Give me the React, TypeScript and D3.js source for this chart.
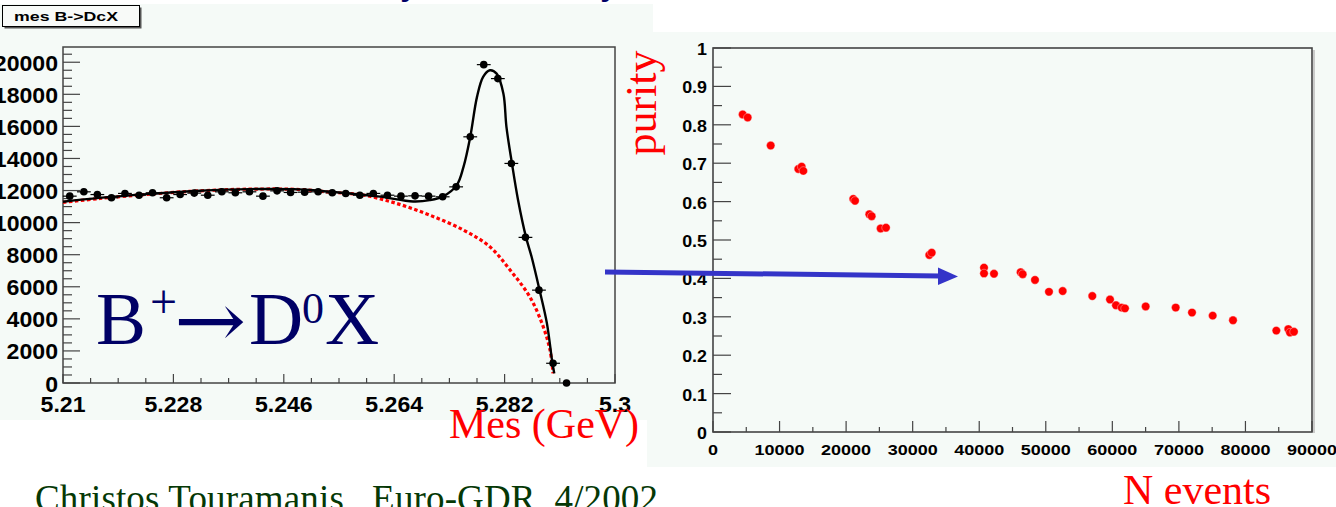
import React from 'react';
import * as d3 from 'd3';

// ---- left plot: mES histogram B+ -> D0 X ----
const mesBins = [
  5.2111, 5.2134, 5.2156, 5.2179, 5.2201, 5.2224, 5.2246, 5.2269, 5.2291, 5.2314,
  5.2336, 5.2359, 5.2381, 5.2404, 5.2426, 5.2449, 5.2471, 5.2494, 5.2516, 5.2539,
  5.2561, 5.2584, 5.2606, 5.2629, 5.2651, 5.2674, 5.2696, 5.2719, 5.2741, 5.2764,
  5.2786, 5.2809, 5.2831, 5.2854, 5.2876, 5.2899, 5.2921,
];
const mesCounts = [
  11650, 11920, 11750, 11550, 11820, 11710, 11860, 11550, 11750, 11840,
  11710, 11920, 11860, 11920, 11650, 11980, 11880, 11900, 11920, 11860,
  11820, 11710, 11820, 11710, 11650, 11670, 11650, 11610, 12230, 15350,
  19850, 18980, 13690, 9080, 5790, 1230, 0,
];
const mesErrors = [
  110, 110, 110, 110, 110, 110, 110, 110, 110, 110,
  110, 110, 110, 110, 110, 110, 110, 110, 110, 110,
  110, 110, 110, 110, 110, 110, 110, 110, 115, 125,
  140, 140, 120, 100, 80, 40, 0,
];
const binHalfWidth = 0.001125;

// total fit (solid black)
const fitMes = [
  5.21, 5.216, 5.2242, 5.2323, 5.2405, 5.2486, 5.2535, 5.2563, 5.2617, 5.2671,
  5.2698, 5.272, 5.2742, 5.2753, 5.2764, 5.2775, 5.2785, 5.2796, 5.2807, 5.2818,
  5.2823, 5.2832, 5.2842, 5.2855, 5.2864, 5.2877, 5.2889, 5.2898, 5.2901,
];
const fitCounts = [
  11300, 11540, 11790, 11990, 12090, 12070, 11930, 11830, 11620, 11320,
  11400, 11640, 12335, 13480, 15350, 17840, 19090, 19500, 19290, 18050,
  15970, 13690, 11400, 9080, 7870, 5790, 3720, 1230, 600,
];

// background (dotted red)
const bkgMes = [
  5.21, 5.216, 5.2242, 5.2323, 5.2405, 5.2486, 5.2535, 5.259, 5.2644, 5.2698,
  5.2753, 5.2796, 5.2829, 5.2861, 5.2883, 5.2894, 5.2899,
];
const bkgCounts = [
  11260, 11506, 11776, 11983, 12087, 12066, 11900, 11713, 11194, 10467,
  9533, 8495, 7040, 5379, 3510, 2056, 604,
];

const mesTickLabels = ['5.21', '5.228', '5.246', '5.264', '5.282', '5.3'];
const countTickLabels = ['0', '2000', '4000', '6000', '8000', '10000', '12000', '14000', '16000', '18000', '20000'];

// ---- right plot: purity vs N events ----
const nEvents = [
  4460, 5210, 8670, 12820, 13320, 13570, 21080, 21340, 23490, 23840,
  25190, 25990, 32500, 32860, 40720, 40720, 42220, 46230, 46530, 48380,
  50480, 52540, 56990, 59650, 60550, 61400, 61900, 65010, 69520, 71970,
  75080, 78130, 84640, 86440, 86690, 87290,
];
const purity = [
  0.827, 0.819, 0.746, 0.685, 0.691, 0.68, 0.607, 0.602, 0.567, 0.562,
  0.53, 0.532, 0.461, 0.467, 0.428, 0.413, 0.412, 0.416, 0.411, 0.396,
  0.365, 0.367, 0.354, 0.345, 0.33, 0.324, 0.322, 0.327, 0.324, 0.311,
  0.303, 0.291, 0.264, 0.268, 0.259, 0.261,
];
const purityTickLabels = ['0', '0.1', '0.2', '0.3', '0.4', '0.5', '0.6', '0.7', '0.8', '0.9', '1'];
const nEventsTickLabels = ['0', '10000', '20000', '30000', '40000', '50000', '60000', '70000', '80000', '90000'];

const SANS = 'Liberation Sans, Arial, Helvetica, sans-serif';
const SERIF = 'Liberation Serif, Times New Roman, serif';
const PANEL = '#f5faf7';
const AXIS = '#444';

function Label({ x, y, sx = 1, anchor = 'middle', size, children }) {
  return (
    <text
      transform={`translate(${x},${y}) scale(${sx},1)`}
      textAnchor={anchor}
      fontFamily={SANS}
      fontWeight="bold"
      fontSize={size}
      fill="#000"
    >
      {children}
    </text>
  );
}

export default function App() {
  const W = 1336, H = 507;

  // left scales
  const x = d3.scaleLinear().domain([5.21, 5.3]).range([63, 615]);
  const y = d3.scaleLinear().domain([0, 20950]).range([383, 47]);

  // right scales
  const x2 = d3.scaleLinear().domain([0, 90000]).range([713, 1312]);
  const y2 = d3.scaleLinear().domain([0, 1]).range([432, 48]);

  const fitLine = d3.line<number>()
    .x((d, i) => x(fitMes[i]))
    .y((d) => y(d))
    .curve(d3.curveCatmullRom.alpha(0.5));
  const bkgLine = d3.line<number>()
    .x((d, i) => x(bkgMes[i]))
    .y((d) => y(d))
    .curve(d3.curveCatmullRom.alpha(0.5));

  const mesMinor = d3.range(0, 21).map((i) => 5.21 + i * 0.0045);
  const countMinor = d3.range(0, 42).map((i) => i * 500);
  const nMinor = d3.range(0, 19).map((i) => i * 5000);
  const purMinor = d3.range(0, 21).map((i) => i * 0.05);

  return (
    <svg width={W} height={H} style={{ position: 'fixed', left: 0, top: 0, background: '#fff' }}>
      <rect x={0} y={0} width={W} height={H} fill="#fff" />

      {/* cut-off title descenders */}
      <text x={401} y={-7} fontFamily={SERIF} fontSize={40} fill="#000066">y</text>
      <text x={601} y={-7} fontFamily={SERIF} fontSize={40} fill="#000066">y</text>

      {/* panels */}
      <rect x={0} y={4} width={653} height={416} fill={PANEL} />
      <rect x={647} y={32} width={W - 647} height={435} fill={PANEL} />

      {/* ---------- left plot ---------- */}
      <g>
        {/* title box */}
        <rect x={4.5} y={7.5} width={137} height={21} fill="#555" />
        <rect x={2.5} y={5.5} width={137} height={21} fill="#f8faf8" stroke="#000" strokeWidth={1} />
        <text x={14} y={21} fontFamily={SANS} fontWeight="bold" fontSize={13}
          textLength={104} lengthAdjust="spacingAndGlyphs">mes B-&gt;DcX</text>

        {/* frame */}
        <rect x={63} y={47} width={552} height={336} fill="none" stroke={AXIS} strokeWidth={1.5} />

        {/* y ticks */}
        {countMinor.map((v) => (
          <line key={'cm' + v} x1={63} x2={v % 2000 === 0 ? 80 : 72} y1={y(v)} y2={y(v)}
            stroke={AXIS} strokeWidth={1.2} />
        ))}
        {countTickLabels.map((t) => (
          <Label key={'cl' + t} x={58} y={y(+t) + 8.5} anchor="end" size={22} sx={1.05}>{t}</Label>
        ))}

        {/* x ticks */}
        {mesMinor.map((v, i) => (
          <line key={'mm' + i} x1={x(v)} x2={x(v)} y1={383} y2={i % 4 === 0 ? 374 : 378}
            stroke={AXIS} strokeWidth={1.2} />
        ))}
        {mesTickLabels.map((t) => (
          <Label key={'ml' + t} x={x(+t)} y={412} size={22} sx={1.05}>{t}</Label>
        ))}

        {/* background + fit */}
        <path d={bkgLine(bkgCounts) || ''} fill="none" stroke="#ff0000" strokeWidth={3.2}
          strokeDasharray="3.5 2.5" />
        <path d={fitLine(fitCounts) || ''} fill="none" stroke="#000" strokeWidth={2.4} />

        {/* data points */}
        {mesCounts.map((c, i) => {
          const cx = x(mesBins[i]);
          const cy = y(c);
          return (
            <g key={'p' + i}>
              {c > 0 && (
                <>
                  <line x1={x(mesBins[i] - binHalfWidth)} x2={x(mesBins[i] + binHalfWidth)} y1={cy} y2={cy}
                    stroke="#000" strokeWidth={1.2} />
                  <line x1={cx} x2={cx} y1={y(c - mesErrors[i])} y2={y(c + mesErrors[i])}
                    stroke="#000" strokeWidth={1.2} />
                </>
              )}
              <circle cx={cx} cy={cy} r={3.8} fill="#000" />
            </g>
          );
        })}

        {/* decay label */}
        <text fontFamily={SERIF} fill="#000066" fontSize={75}>
          <tspan x={96} y={344}>B</tspan>
          <tspan x={150} y={318} fontSize={48}>+</tspan>
          <tspan x={249} y={344}>D</tspan>
          <tspan x={302} y={323} fontSize={44}>0</tspan>
          <tspan x={325} y={344}>X</tspan>
        </text>
        <text transform="translate(174,347) scale(1.35,1.2)" fontFamily="DejaVu Serif, serif"
          fill="#000066" fontSize={64}>→</text>
      </g>

      {/* x axis title of left plot */}
      <text x={449} y={438} fontFamily={SERIF} fontSize={42} fill="#ff0000">Mes (GeV)</text>

      {/* ---------- right plot ---------- */}
      <g>
        <line x1={1314} x2={1314} y1={50} y2={433} stroke="#bbb" strokeWidth={1.5} />
        <rect x={713} y={48} width={599} height={384} fill="none" stroke={AXIS} strokeWidth={1.6} />

        {purMinor.map((v, i) => (
          <line key={'pm' + i} x1={713} x2={i % 2 === 0 ? 731 : 722} y1={y2(v)} y2={y2(v)}
            stroke={AXIS} strokeWidth={1.2} />
        ))}
        {purityTickLabels.map((t) => (
          <Label key={'pl' + t} x={707} y={y2(+t) + 7} anchor="end" size={17} sx={1.05}>{t}</Label>
        ))}

        {nMinor.map((v, i) => (
          <line key={'nm' + i} x1={x2(v)} x2={x2(v)} y1={432} y2={i % 2 === 0 ? 421 : 427}
            stroke={AXIS} strokeWidth={1.2} />
        ))}
        {nEventsTickLabels.map((t) => (
          <Label key={'nl' + t} x={x2(+t)} y={455} size={15} sx={1.2}>{t}</Label>
        ))}

        {nEvents.map((n, i) => (
          <circle key={'r' + i} cx={x2(n)} cy={y2(purity[i])} r={4.2} fill="#ff0000"
            stroke="#ffdede" strokeWidth={0.4} />
        ))}
      </g>

      {/* right axis titles */}
      <text transform="translate(656,103) rotate(-90)" textAnchor="middle" fontFamily={SERIF}
        fontSize={44} fill="#ff0000">purity</text>
      <text x={1123} y={504} fontFamily={SERIF} fontSize={42} fill="#ff0000">N events</text>

      {/* blue arrow */}
      <line x1={605} y1={272} x2={940} y2={276} stroke="#3434c8" strokeWidth={5} />
      <path d="M938,267.5 L958,276.5 L938,285 Z" fill="#3434c8" />

      {/* footer */}
      <text x={35} y={511} fontFamily={SERIF} fontSize={37} fill="#053805" xmlSpace="preserve"
        textLength={623} lengthAdjust="spacing">Christos Touramanis   Euro-GDR  4/2002</text>
    </svg>
  );
}
